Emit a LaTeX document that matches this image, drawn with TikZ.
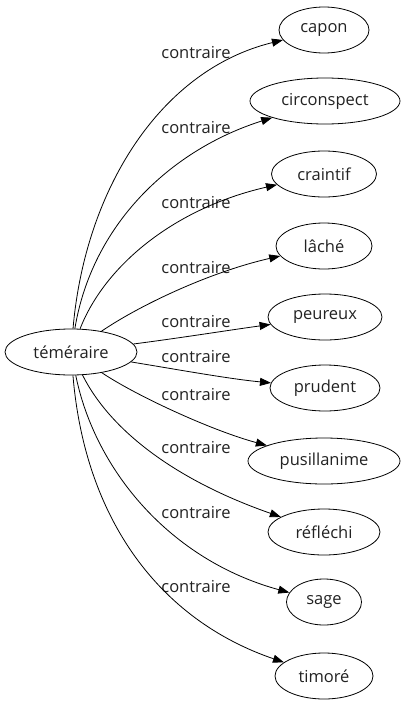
\documentclass[tikz,border=0pt]{standalone}
\usepackage{fontspec}
\setmainfont{Open Sans}
\usepackage{tikz}
\usetikzlibrary{shapes.geometric, arrows.meta, positioning}
\definecolor{InkBlack}{HTML}{000000}
\definecolor{TextGray}{HTML}{222222}

\begin{document}
\begin{tikzpicture}[
  x=1pt, y=-1pt,
  word/.style={ellipse, draw=InkBlack, line width=0.8pt, minimum height=46pt,
               inner sep=1pt, text=TextGray, font=\fontsize{16.5}{19}\selectfont},
  arr/.style={-{Triangle[length=11pt, width=8pt]}, line width=0.8pt, InkBlack},
  lbl/.style={text=TextGray, font=\fontsize{16.5}{19}\selectfont, inner sep=0pt},
]
\useasboundingbox (0,0) rectangle (405,707);

% source
\node[word, minimum width=132pt] (tem) at (71,352) {téméraire};

% targets
\node[word, minimum width=90pt]  (capon)  at (324,30)  {capon};
\node[word, minimum width=150pt] (circ)   at (325,101) {circonspect};
\node[word, minimum width=105pt] (craint) at (324,174) {craintif};
\node[word, minimum width=96pt]  (lache)  at (324,246) {lâché};
\node[word, minimum width=114pt] (peur)   at (325,317) {peureux};
\node[word, minimum width=110pt] (prud)   at (325,388) {prudent};
\node[word, minimum width=152pt] (pusil)  at (324,461) {pusillanime};
\node[word, minimum width=112pt] (refl)   at (324,532) {réfléchi};
\node[word, minimum width=75pt]  (sage)   at (324,602) {sage};
\node[word, minimum width=98pt]  (timore) at (324,676) {timoré};

% edge labels
\node[lbl] (lcapon)  at (196,53)  {contraire};
\node[lbl] (lcirc)   at (196,128) {contraire};
\node[lbl] (lcraint) at (196,203) {contraire};
\node[lbl] (llache)  at (196,268) {contraire};
\node[lbl] (lpeur)   at (196,322) {contraire};
\node[lbl] (lprud)   at (196,357) {contraire};
\node[lbl] (lpusil)  at (196,395) {contraire};
\node[lbl] (lrefl)   at (196,448) {contraire};
\node[lbl] (lsage)   at (196,513) {contraire};
\node[lbl] (ltimore) at (196,587) {contraire};

% edges
\draw[arr] (tem) .. controls (85,190) and (160,70) .. (capon);
\draw[arr] (tem) .. controls (92,225) and (170,150) .. (circ);
\draw[arr] (tem) .. controls (105,265) and (175,208) .. (craint);
\draw[arr] (tem) .. controls (140,305) and (210,272) .. (lache);
\draw[arr] (tem) .. controls (180,338) and (230,330) .. (peur);
\draw[arr] (tem) .. controls (180,370) and (230,379) .. (prud);
\draw[arr] (tem) .. controls (135,395) and (210,430) .. (pusil);
\draw[arr] (tem) .. controls (110,430) and (175,480) .. (refl);
\draw[arr] (tem) .. controls (95,470) and (170,560) .. (sage);
\draw[arr] (tem) .. controls (85,520) and (160,620) .. (timore);

\end{tikzpicture}
\end{document}
